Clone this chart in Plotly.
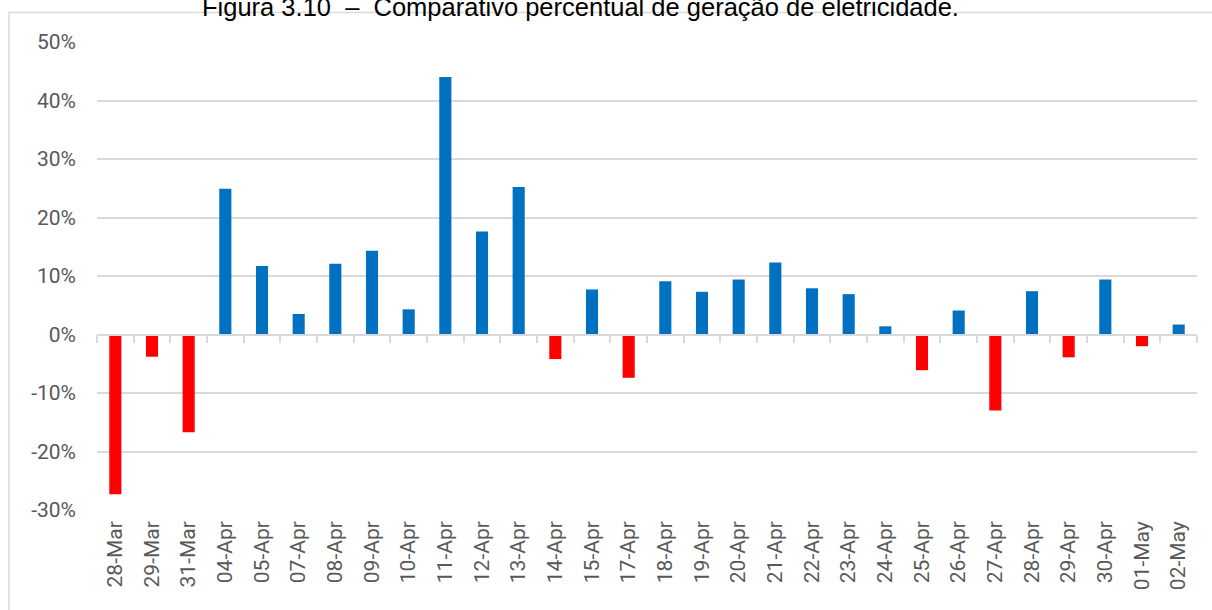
import plotly.graph_objects as go

categories = ["28-Mar", "29-Mar", "31-Mar", "04-Apr", "05-Apr", "07-Apr", "08-Apr", "09-Apr",
              "10-Apr", "11-Apr", "12-Apr", "13-Apr", "14-Apr", "15-Apr", "17-Apr", "18-Apr",
              "19-Apr", "20-Apr", "21-Apr", "22-Apr", "23-Apr", "24-Apr", "25-Apr", "26-Apr",
              "27-Apr", "28-Apr", "29-Apr", "30-Apr", "01-May", "02-May"]
values = [-27.3, -3.8, -16.7, 24.9, 11.7, 3.5, 12.1, 14.3,
          4.3, 44.0, 17.6, 25.2, -4.2, 7.7, -7.4, 9.1,
          7.3, 9.4, 12.3, 7.9, 6.9, 1.4, -6.1, 4.1,
          -13.0, 7.4, -3.9, 9.4, -2.0, 1.7]
y_tickvals = [-30, -20, -10, 0, 10, 20, 30, 40, 50]
y_ticktext = ["-30%", "-20%", "-10%", "0%", "10%", "20%", "30%", "40%", "50%"]
title_text = "Figura 3.10\u00a0\u00a0–\u00a0\u00a0Comparativo percentual de geração de eletricidade."

BLUE = "#0070C0"
RED = "#FF0000"
GRID = "#D9D9D9"
LABEL = "#595959"

W, H = 1212, 610
ML, MR, MT, MB = 97, 15, 42, 100
PW, PH = W - ML - MR, H - MT - MB

def px_to_paper_x(px):
    return (px - ML) / PW

def px_to_paper_y(py):
    return (H - MB - py) / PH

colors = [BLUE if v >= 0 else RED for v in values]
x_range = [-0.5, len(categories) - 0.5]

fig = go.Figure()
fig.add_trace(go.Bar(
    x=categories, y=values,
    marker=dict(color=colors, line=dict(width=0)),
    xaxis="x", yaxis="y", showlegend=False,
))
# invisible trace carrying the category labels on the bottom axis
fig.add_trace(go.Scatter(
    x=categories, y=[0] * len(categories), mode="markers",
    marker=dict(opacity=0, size=1), xaxis="x2", yaxis="y",
    hoverinfo="skip", showlegend=False,
))

zero_pos = (0 - y_tickvals[0]) / (y_tickvals[-1] - y_tickvals[0])

fig.update_layout(
    width=W, height=H,
    margin=dict(l=ML, r=MR, t=MT, b=MB),
    paper_bgcolor="white", plot_bgcolor="white",
    bargap=0.67,
    font=dict(family="Roboto", size=21, color=LABEL),
    xaxis=dict(
        type="category", categoryorder="array", categoryarray=categories,
        range=x_range, autorange=False,
        anchor="free", position=zero_pos,
        showline=True, linecolor=GRID, linewidth=1.5,
        ticks="outside", tickson="boundaries", ticklen=8, tickcolor=GRID, tickwidth=1.5,
        showticklabels=False, showgrid=False, zeroline=False,
    ),
    xaxis2=dict(
        type="category", categoryorder="array", categoryarray=categories,
        range=x_range, autorange=False,
        overlaying="x", anchor="y", side="bottom",
        showline=False, showgrid=False, zeroline=False, ticks="",
        tickangle=-90, tickfont=dict(family="Roboto", size=21, color=LABEL),
        ticklabelstandoff=6,
    ),
    yaxis=dict(
        range=[y_tickvals[0], y_tickvals[-1]],
        tickvals=y_tickvals, ticktext=y_ticktext,
        showgrid=True, gridcolor=GRID, gridwidth=1.5,
        zeroline=False, showline=False, ticks="",
        tickfont=dict(family="Roboto", size=21, color=LABEL),
        ticklabelstandoff=20,
    ),
    shapes=[dict(
        type="rect", xref="paper", yref="paper",
        x0=px_to_paper_x(9), x1=px_to_paper_x(1230),
        y0=px_to_paper_y(630), y1=px_to_paper_y(12.5),
        line=dict(color=GRID, width=1.5), fillcolor="rgba(0,0,0,0)", layer="below",
    )],
    annotations=[dict(
        text=title_text, xref="paper", yref="paper",
        x=px_to_paper_x(580.5), y=px_to_paper_y(7), xanchor="center", yanchor="middle",
        showarrow=False, font=dict(family="Liberation Sans", size=25.5, color="black"),
    )],
)

fig.write_html("out.html", config={"displayModeBar": False},
               post_script="document.body.style.margin='0';")
